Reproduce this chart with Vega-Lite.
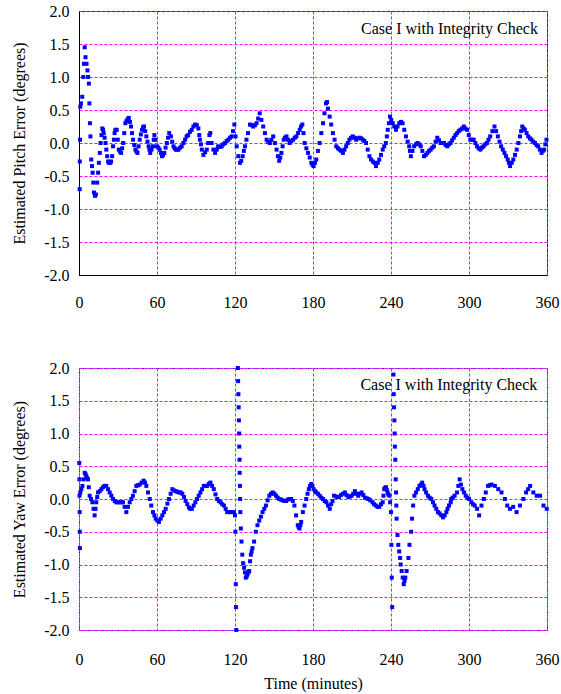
{
"$schema": "https://vega.github.io/schema/vega-lite/v6.json",
"background": "white",
"padding": {"left": 11, "top": 2, "right": 0, "bottom": 2},
"spacing": 48,
"config": {
  "font": "Liberation Serif",
  "text": {"font": "Liberation Serif"},
  "axis": {"labelFont": "Liberation Serif", "labelFontSize": 16, "titleFont": "Liberation Serif", "titleFontSize": 16, "titleFontWeight": "normal", "labelColor": "#000", "titleColor": "#000", "gridColor": "#ff00ff", "gridDash": [3, 2], "gridOpacity": 1, "gridWidth": 1, "ticks": false, "domainColor": "#000", "domainWidth": 1, "labelFlush": false, "labelOverlap": false},
  "axisX": {"gridColor": "#ff00ff", "gridDash": [3, 2], "gridOpacity": 1},
  "axisY": {"gridColor": "#ff00ff", "gridDash": [3, 2], "gridOpacity": 1}
},
"datasets": {
"label": [{"label": "Case I with Integrity Check"}],
"pitch": [
{"t":0.5,"v":-0.7},{"t":0.6,"v":-0.28},{"t":0.8,"v":0.05},{"t":1,"v":0.55},{"t":1.5,"v":0.6},{"t":2.5,"v":0.7},{"t":3.3,"v":1.0},{"t":3.8,"v":1.2},{"t":4.4,"v":1.45},{"t":5,"v":1.3},{"t":5.8,"v":1.2},{"t":6.5,"v":1.1},{"t":7,"v":1.0},{"t":7.6,"v":0.9},{"t":8,"v":0.6},{"t":8.4,"v":0.3},{"t":8.8,"v":0.1},{"t":9.4,"v":-0.25},{"t":10,"v":-0.35},{"t":10.5,"v":-0.45},{"t":11,"v":-0.6},{"t":11.5,"v":-0.75},{"t":12.3,"v":-0.8},{"t":13,"v":-0.78},{"t":14,"v":-0.6},{"t":14.7,"v":-0.45},{"t":15.3,"v":-0.3},{"t":16,"v":-0.15},{"t":16.6,"v":0.0},{"t":17.3,"v":0.12},{"t":17.9,"v":0.22},{"t":18.5,"v":0.2},{"t":19,"v":0.15},{"t":19.7,"v":0.08},{"t":20.4,"v":0.0},{"t":21,"v":-0.1},{"t":21.7,"v":-0.2},{"t":22.4,"v":-0.28},{"t":23,"v":-0.3},{"t":24,"v":-0.3},{"t":24.7,"v":-0.28},{"t":25.5,"v":-0.2},{"t":26.2,"v":-0.05},{"t":26.8,"v":0.05},{"t":27.4,"v":0.15},{"t":28,"v":0.2},{"t":29,"v":0.2},{"t":29.8,"v":0.05},{"t":30.6,"v":-0.1},{"t":31.5,"v":-0.13},{"t":32.4,"v":-0.15},{"t":33.2,"v":-0.08},{"t":34,"v":0.0},{"t":34.8,"v":0.15},{"t":35.7,"v":0.3},{"t":36.5,"v":0.33},{"t":37.4,"v":0.36},{"t":38.3,"v":0.38},{"t":39.2,"v":0.32},{"t":40,"v":0.25},{"t":40.8,"v":0.15},{"t":41.6,"v":0.05},{"t":42.5,"v":-0.03},{"t":43.4,"v":-0.1},{"t":44.2,"v":-0.13},{"t":45,"v":-0.15},{"t":45.8,"v":-0.05},{"t":46.7,"v":0.05},{"t":47.6,"v":0.13},{"t":48.5,"v":0.2},{"t":49.3,"v":0.24},{"t":50,"v":0.25},{"t":50.9,"v":0.18},{"t":51.8,"v":0.1},{"t":52.7,"v":0.02},{"t":53.6,"v":-0.05},{"t":54.2,"v":-0.1},{"t":54.8,"v":-0.15},{"t":55.8,"v":-0.1},{"t":56.9,"v":-0.05},{"t":57.5,"v":0.05},{"t":58,"v":0.12},{"t":58.8,"v":0.05},{"t":60,"v":-0.05},{"t":61,"v":-0.07},{"t":62,"v":-0.1},{"t":63,"v":-0.15},{"t":63.8,"v":-0.2},{"t":64.7,"v":-0.18},{"t":65.6,"v":-0.15},{"t":66.6,"v":-0.07},{"t":67.6,"v":0.0},{"t":68.5,"v":0.08},{"t":69.4,"v":0.15},{"t":70.7,"v":0.1},{"t":71.7,"v":0.02},{"t":72.7,"v":-0.05},{"t":73.6,"v":-0.08},{"t":74.5,"v":-0.1},{"t":75.5,"v":-0.1},{"t":76.5,"v":-0.1},{"t":77.8,"v":-0.07},{"t":79,"v":-0.05},{"t":80.3,"v":0.0},{"t":81.6,"v":0.05},{"t":82.8,"v":0.1},{"t":84,"v":0.12},{"t":85.4,"v":0.17},{"t":86.7,"v":0.2},{"t":88,"v":0.25},{"t":89.3,"v":0.28},{"t":90.6,"v":0.27},{"t":91.8,"v":0.22},{"t":92.5,"v":0.12},{"t":93,"v":0.05},{"t":93.8,"v":-0.02},{"t":94.5,"v":-0.1},{"t":95.7,"v":-0.18},{"t":97,"v":-0.14},{"t":98.3,"v":-0.1},{"t":99.3,"v":0.0},{"t":100.3,"v":0.12},{"t":101,"v":0.15},{"t":102,"v":0.0},{"t":103.4,"v":-0.1},{"t":104.7,"v":-0.15},{"t":106,"v":-0.1},{"t":107,"v":-0.05},{"t":108.4,"v":-0.06},{"t":109.8,"v":-0.05},{"t":111,"v":-0.02},{"t":112.3,"v":0.0},{"t":113.6,"v":0.03},{"t":114.9,"v":0.05},{"t":116.2,"v":0.08},{"t":117.4,"v":0.1},{"t":118.5,"v":0.18},{"t":119.5,"v":0.28},{"t":120.4,"v":0.1},{"t":121.3,"v":-0.05},{"t":122.5,"v":-0.2},{"t":123.8,"v":-0.3},{"t":124.8,"v":-0.27},{"t":125.9,"v":-0.2},{"t":126.8,"v":-0.12},{"t":127.7,"v":-0.05},{"t":128.8,"v":0.05},{"t":130,"v":0.15},{"t":131.5,"v":0.28},{"t":132.7,"v":0.27},{"t":134,"v":0.25},{"t":135.3,"v":0.27},{"t":136.6,"v":0.3},{"t":137.8,"v":0.37},{"t":139,"v":0.45},{"t":140.3,"v":0.35},{"t":141.7,"v":0.25},{"t":143,"v":0.15},{"t":144.3,"v":0.05},{"t":145.5,"v":0.02},{"t":146.8,"v":0.0},{"t":148,"v":0.05},{"t":149.4,"v":0.1},{"t":150.7,"v":0.0},{"t":152,"v":-0.1},{"t":153,"v":-0.2},{"t":154,"v":-0.27},{"t":154.8,"v":-0.22},{"t":155.7,"v":-0.15},{"t":156.6,"v":-0.05},{"t":157.5,"v":0.05},{"t":158.5,"v":0.08},{"t":159.6,"v":0.1},{"t":160.8,"v":0.05},{"t":162,"v":0.0},{"t":163.3,"v":0.03},{"t":164.7,"v":0.05},{"t":166,"v":0.08},{"t":167.2,"v":0.1},{"t":168.5,"v":0.15},{"t":169.8,"v":0.2},{"t":170.8,"v":0.25},{"t":171.8,"v":0.28},{"t":172.7,"v":0.15},{"t":173.6,"v":0.0},{"t":174.9,"v":-0.08},{"t":176.2,"v":-0.15},{"t":177.5,"v":-0.22},{"t":178.7,"v":-0.3},{"t":179.6,"v":-0.33},{"t":180.5,"v":-0.35},{"t":181.5,"v":-0.3},{"t":182.5,"v":-0.25},{"t":183.8,"v":-0.12},{"t":185.1,"v":0.0},{"t":186.4,"v":0.15},{"t":187.7,"v":0.3},{"t":188.8,"v":0.45},{"t":190,"v":0.6},{"t":190.8,"v":0.62},{"t":191.5,"v":0.52},{"t":192.8,"v":0.4},{"t":194,"v":0.28},{"t":195.3,"v":0.15},{"t":196.6,"v":0.05},{"t":197.9,"v":-0.05},{"t":199.2,"v":-0.08},{"t":200.4,"v":-0.1},{"t":201.7,"v":-0.12},{"t":203,"v":-0.15},{"t":204.2,"v":-0.1},{"t":205.5,"v":-0.05},{"t":206.8,"v":0.0},{"t":208,"v":0.05},{"t":209.3,"v":0.08},{"t":210.6,"v":0.1},{"t":211.9,"v":0.08},{"t":213.2,"v":0.05},{"t":214.5,"v":0.07},{"t":215.7,"v":0.08},{"t":217,"v":0.07},{"t":218.3,"v":0.05},{"t":219.5,"v":0.03},{"t":220.8,"v":0.0},{"t":222.1,"v":-0.1},{"t":223.4,"v":-0.2},{"t":224.7,"v":-0.25},{"t":226,"v":-0.28},{"t":227.3,"v":-0.3},{"t":228.5,"v":-0.35},{"t":229.8,"v":-0.3},{"t":231,"v":-0.25},{"t":232.3,"v":-0.18},{"t":233.6,"v":-0.1},{"t":234.8,"v":-0.05},{"t":236,"v":0.0},{"t":236.8,"v":0.1},{"t":237.5,"v":0.2},{"t":238.4,"v":0.3},{"t":239.2,"v":0.4},{"t":240.2,"v":0.35},{"t":241.3,"v":0.3},{"t":242.5,"v":0.25},{"t":243.8,"v":0.2},{"t":245,"v":0.25},{"t":246.4,"v":0.3},{"t":247.7,"v":0.32},{"t":248.9,"v":0.3},{"t":250.2,"v":0.2},{"t":251.5,"v":0.1},{"t":252.8,"v":0.02},{"t":254,"v":-0.05},{"t":254.6,"v":-0.12},{"t":255.3,"v":-0.2},{"t":256.5,"v":-0.12},{"t":257.8,"v":-0.05},{"t":259.1,"v":-0.02},{"t":260.4,"v":0.0},{"t":261.7,"v":-0.02},{"t":262.9,"v":-0.05},{"t":264.1,"v":-0.12},{"t":265.4,"v":-0.2},{"t":266.7,"v":-0.18},{"t":268,"v":-0.15},{"t":269.3,"v":-0.12},{"t":270.5,"v":-0.1},{"t":271.8,"v":-0.07},{"t":273,"v":-0.05},{"t":274.3,"v":0.02},{"t":275.6,"v":0.08},{"t":276.9,"v":0.04},{"t":278.2,"v":0.0},{"t":279.5,"v":0.0},{"t":280.7,"v":0.0},{"t":282,"v":-0.03},{"t":283.3,"v":-0.05},{"t":284.6,"v":-0.02},{"t":285.8,"v":0.0},{"t":287,"v":0.04},{"t":288.3,"v":0.08},{"t":289.6,"v":0.12},{"t":290.9,"v":0.15},{"t":292.1,"v":0.18},{"t":293.4,"v":0.2},{"t":294.7,"v":0.22},{"t":296,"v":0.25},{"t":297.2,"v":0.22},{"t":298.5,"v":0.2},{"t":299.8,"v":0.12},{"t":301,"v":0.05},{"t":302.3,"v":0.05},{"t":303.6,"v":0.05},{"t":304.9,"v":0.0},{"t":306.2,"v":-0.05},{"t":307.4,"v":-0.08},{"t":308.7,"v":-0.1},{"t":310,"v":-0.07},{"t":311.2,"v":-0.05},{"t":312.5,"v":-0.02},{"t":313.8,"v":0.0},{"t":315,"v":0.05},{"t":316.3,"v":0.1},{"t":318,"v":0.18},{"t":319.6,"v":0.25},{"t":320.9,"v":0.18},{"t":322.2,"v":0.1},{"t":323.5,"v":0.02},{"t":324.7,"v":-0.05},{"t":326,"v":-0.1},{"t":327.3,"v":-0.15},{"t":328.5,"v":-0.2},{"t":329.8,"v":-0.25},{"t":330.7,"v":-0.3},{"t":331.6,"v":-0.35},{"t":332.9,"v":-0.3},{"t":334.1,"v":-0.25},{"t":335.4,"v":-0.18},{"t":336.7,"v":-0.1},{"t":338,"v":0.0},{"t":339.2,"v":0.1},{"t":340.1,"v":0.18},{"t":341,"v":0.25},{"t":342,"v":0.22},{"t":343,"v":0.2},{"t":344.3,"v":0.15},{"t":345.6,"v":0.1},{"t":346.9,"v":0.07},{"t":348.1,"v":0.05},{"t":349.4,"v":0.02},{"t":350.7,"v":0.0},{"t":352,"v":-0.03},{"t":353.2,"v":-0.05},{"t":354.5,"v":-0.1},{"t":355.8,"v":-0.15},{"t":356.8,"v":-0.12},{"t":357.8,"v":-0.1},{"t":358.7,"v":-0.02},{"t":359.6,"v":0.05}
],
"yaw": [
{"t":0.2,"v":0.55},{"t":0.3,"v":0.3},{"t":0.4,"v":0.05},{"t":0.5,"v":-0.2},{"t":0.6,"v":-0.5},{"t":0.7,"v":-0.75},{"t":1,"v":0.1},{"t":1.8,"v":0.15},{"t":2.6,"v":0.2},{"t":3.5,"v":0.3},{"t":4.4,"v":0.4},{"t":5,"v":0.38},{"t":5.6,"v":0.35},{"t":6.3,"v":0.32},{"t":6.9,"v":0.3},{"t":7.5,"v":0.18},{"t":8.2,"v":0.05},{"t":9.2,"v":0.0},{"t":10.3,"v":-0.05},{"t":11.2,"v":-0.15},{"t":12,"v":-0.25},{"t":12.7,"v":-0.15},{"t":13.3,"v":-0.05},{"t":14,"v":0.03},{"t":14.6,"v":0.1},{"t":16,"v":0.12},{"t":17.2,"v":0.15},{"t":18.5,"v":0.18},{"t":19.7,"v":0.2},{"t":21,"v":0.2},{"t":22.3,"v":0.15},{"t":23.6,"v":0.1},{"t":24.9,"v":0.05},{"t":26.2,"v":0.0},{"t":27.5,"v":-0.03},{"t":28.7,"v":-0.05},{"t":30,"v":-0.05},{"t":31.3,"v":-0.05},{"t":32.5,"v":-0.05},{"t":33.8,"v":-0.05},{"t":35.1,"v":-0.12},{"t":36.4,"v":-0.2},{"t":37.7,"v":-0.12},{"t":39,"v":-0.05},{"t":40.3,"v":0.0},{"t":41.5,"v":0.05},{"t":42.8,"v":0.12},{"t":44.1,"v":0.2},{"t":45.4,"v":0.21},{"t":46.7,"v":0.22},{"t":48.2,"v":0.25},{"t":49.7,"v":0.28},{"t":50.8,"v":0.25},{"t":51.8,"v":0.2},{"t":53.1,"v":0.1},{"t":54.4,"v":0.0},{"t":55.6,"v":-0.1},{"t":56.9,"v":-0.2},{"t":58,"v":-0.25},{"t":59,"v":-0.3},{"t":60.3,"v":-0.33},{"t":61.5,"v":-0.35},{"t":62.8,"v":-0.3},{"t":64.1,"v":-0.25},{"t":65.4,"v":-0.2},{"t":66.7,"v":-0.15},{"t":68,"v":-0.07},{"t":69.2,"v":0.0},{"t":70.5,"v":0.08},{"t":71.8,"v":0.15},{"t":73.1,"v":0.13},{"t":74.4,"v":0.12},{"t":75.7,"v":0.11},{"t":76.9,"v":0.1},{"t":78.2,"v":0.1},{"t":79.5,"v":0.08},{"t":80.8,"v":0.03},{"t":82,"v":-0.03},{"t":83.3,"v":-0.08},{"t":84.6,"v":-0.13},{"t":85.6,"v":-0.15},{"t":86.8,"v":-0.15},{"t":88.2,"v":-0.1},{"t":89.5,"v":-0.05},{"t":90.8,"v":0.0},{"t":92.1,"v":0.05},{"t":93.4,"v":0.1},{"t":94.7,"v":0.15},{"t":96,"v":0.2},{"t":97.3,"v":0.2},{"t":98.6,"v":0.2},{"t":99.9,"v":0.23},{"t":101.1,"v":0.25},{"t":102.4,"v":0.2},{"t":103.7,"v":0.15},{"t":105,"v":0.07},{"t":106.3,"v":0.0},{"t":107.6,"v":-0.03},{"t":108.9,"v":-0.05},{"t":110.2,"v":-0.08},{"t":111.5,"v":-0.1},{"t":112.8,"v":-0.15},{"t":114,"v":-0.2},{"t":115.3,"v":-0.2},{"t":116.6,"v":-0.2},{"t":117.9,"v":-0.2},{"t":119.2,"v":-0.2},{"t":120,"v":-0.25},{"t":120.3,"v":-0.5},{"t":120.6,"v":-1.3},{"t":120.8,"v":-1.65},{"t":121,"v":-2.0},{"t":122.2,"v":2.0},{"t":122.4,"v":1.8},{"t":122.6,"v":1.6},{"t":122.8,"v":1.4},{"t":123,"v":1.2},{"t":123.2,"v":1.0},{"t":123.3,"v":0.8},{"t":123.5,"v":0.6},{"t":123.6,"v":0.4},{"t":123.8,"v":0.2},{"t":123.9,"v":0.0},{"t":124.1,"v":-0.2},{"t":124.5,"v":-0.45},{"t":125,"v":-0.65},{"t":125.6,"v":-0.85},{"t":126.3,"v":-0.98},{"t":127,"v":-1.05},{"t":127.7,"v":-1.12},{"t":128.3,"v":-1.2},{"t":129,"v":-1.18},{"t":129.6,"v":-1.15},{"t":130.3,"v":-1.12},{"t":130.9,"v":-1.1},{"t":131.6,"v":-0.95},{"t":132.2,"v":-0.85},{"t":132.8,"v":-0.8},{"t":133.4,"v":-0.75},{"t":134.7,"v":-0.65},{"t":136,"v":-0.5},{"t":137.3,"v":-0.4},{"t":138.6,"v":-0.33},{"t":139.9,"v":-0.27},{"t":141.2,"v":-0.2},{"t":142.5,"v":-0.15},{"t":143.8,"v":-0.1},{"t":145.1,"v":-0.02},{"t":146.4,"v":0.05},{"t":147.7,"v":0.08},{"t":149,"v":0.1},{"t":150.3,"v":0.08},{"t":151.6,"v":0.05},{"t":152.8,"v":0.02},{"t":154,"v":0.0},{"t":155.4,"v":-0.01},{"t":156.6,"v":-0.02},{"t":158,"v":-0.03},{"t":159.3,"v":-0.03},{"t":160.6,"v":-0.01},{"t":161.9,"v":0.0},{"t":163.2,"v":0.0},{"t":164.5,"v":-0.03},{"t":165.7,"v":-0.1},{"t":167,"v":-0.25},{"t":168.3,"v":-0.4},{"t":169,"v":-0.43},{"t":169.6,"v":-0.45},{"t":170.3,"v":-0.4},{"t":170.9,"v":-0.35},{"t":172.2,"v":-0.2},{"t":173.5,"v":-0.1},{"t":174.8,"v":0.0},{"t":175.8,"v":0.08},{"t":176.8,"v":0.15},{"t":177.7,"v":0.2},{"t":178.7,"v":0.23},{"t":179.6,"v":0.2},{"t":180.5,"v":0.15},{"t":181.5,"v":0.12},{"t":182.5,"v":0.1},{"t":183.8,"v":0.08},{"t":185.1,"v":0.05},{"t":186.4,"v":0.02},{"t":187.7,"v":0.0},{"t":189,"v":-0.03},{"t":190.3,"v":-0.05},{"t":191.6,"v":-0.1},{"t":192.9,"v":-0.15},{"t":194,"v":-0.08},{"t":195,"v":-0.03},{"t":196.2,"v":0.05},{"t":197.5,"v":0.04},{"t":198.8,"v":0.03},{"t":200,"v":0.03},{"t":201.5,"v":0.06},{"t":203,"v":0.08},{"t":204.5,"v":0.1},{"t":205.8,"v":0.06},{"t":207.2,"v":0.03},{"t":208.5,"v":0.04},{"t":209.7,"v":0.05},{"t":211,"v":0.08},{"t":212.2,"v":0.12},{"t":213.5,"v":0.08},{"t":214.8,"v":0.05},{"t":216,"v":0.08},{"t":217.4,"v":0.1},{"t":218.7,"v":0.06},{"t":220,"v":0.02},{"t":221.3,"v":0.01},{"t":222.6,"v":0.0},{"t":224,"v":-0.02},{"t":225.8,"v":-0.05},{"t":227,"v":-0.08},{"t":228.4,"v":-0.1},{"t":229.7,"v":-0.12},{"t":231,"v":-0.12},{"t":232.3,"v":-0.08},{"t":233.6,"v":-0.05},{"t":234.2,"v":0.05},{"t":234.8,"v":0.15},{"t":235.5,"v":0.17},{"t":236.1,"v":0.18},{"t":236.8,"v":0.14},{"t":237.4,"v":0.1},{"t":238,"v":0.07},{"t":238.7,"v":0.05},{"t":239.3,"v":-0.05},{"t":240,"v":-0.2},{"t":240.3,"v":-0.7},{"t":240.6,"v":-1.2},{"t":240.9,"v":-1.65},{"t":241.9,"v":1.9},{"t":242.1,"v":1.6},{"t":242.3,"v":1.4},{"t":242.6,"v":1.2},{"t":242.8,"v":1.0},{"t":243,"v":0.8},{"t":243.3,"v":0.6},{"t":243.6,"v":0.3},{"t":243.9,"v":0.1},{"t":244.1,"v":-0.1},{"t":244.3,"v":-0.3},{"t":245,"v":-0.55},{"t":245.6,"v":-0.7},{"t":246.3,"v":-0.8},{"t":247,"v":-0.9},{"t":247.4,"v":-1.0},{"t":248.2,"v":-1.1},{"t":249,"v":-1.2},{"t":249.8,"v":-1.3},{"t":250.4,"v":-1.25},{"t":251,"v":-1.2},{"t":252,"v":-1.1},{"t":253.4,"v":-0.9},{"t":254.2,"v":-0.7},{"t":255.5,"v":-0.5},{"t":256.2,"v":-0.3},{"t":257,"v":-0.1},{"t":258,"v":0.05},{"t":259.3,"v":0.1},{"t":260.6,"v":0.15},{"t":261.9,"v":0.2},{"t":263,"v":0.22},{"t":264,"v":0.25},{"t":265,"v":0.2},{"t":265.8,"v":0.15},{"t":267,"v":0.1},{"t":268.4,"v":0.05},{"t":269.7,"v":0.02},{"t":271,"v":0.0},{"t":272.3,"v":-0.05},{"t":273.5,"v":-0.1},{"t":274.8,"v":-0.15},{"t":276.1,"v":-0.2},{"t":277.4,"v":-0.22},{"t":278.7,"v":-0.25},{"t":280,"v":-0.28},{"t":281.3,"v":-0.25},{"t":282.6,"v":-0.2},{"t":283.5,"v":-0.15},{"t":284.6,"v":-0.1},{"t":285.9,"v":-0.05},{"t":286.4,"v":0.0},{"t":287.5,"v":0.02},{"t":288.9,"v":0.05},{"t":290.8,"v":0.1},{"t":291.8,"v":0.2},{"t":292.8,"v":0.3},{"t":293.8,"v":0.22},{"t":294.9,"v":0.15},{"t":296.2,"v":0.1},{"t":297.5,"v":0.05},{"t":298.8,"v":0.02},{"t":300,"v":0.0},{"t":301.8,"v":-0.05},{"t":303.1,"v":-0.08},{"t":304.4,"v":-0.1},{"t":306.2,"v":-0.15},{"t":307.8,"v":-0.25},{"t":309.6,"v":-0.1},{"t":311.4,"v":0.0},{"t":312.9,"v":0.1},{"t":314.7,"v":0.2},{"t":316,"v":0.21},{"t":317.3,"v":0.22},{"t":319.9,"v":0.2},{"t":322.5,"v":0.15},{"t":325,"v":0.1},{"t":327.6,"v":0.0},{"t":329.4,"v":-0.1},{"t":331.5,"v":-0.15},{"t":334,"v":-0.12},{"t":336.6,"v":-0.2},{"t":339.2,"v":-0.1},{"t":341.8,"v":0.0},{"t":343.9,"v":0.1},{"t":345.5,"v":0.15},{"t":347,"v":0.2},{"t":349.5,"v":0.1},{"t":352.1,"v":0.05},{"t":354.7,"v":0.05},{"t":357.3,"v":-0.1},{"t":359.8,"v":-0.15}
]
},
"vconcat": [
{
  "width": 468, "height": 264,
  "view": {"stroke": "#2a1a30", "strokeWidth": 1},
  "layer": [
    {"data": {"name": "pitch"}, "mark": {"type": "point", "shape": "square", "filled": true, "size": 16, "color": "#0000ff", "opacity": 1},
     "encoding": {
       "x": {"field": "t", "type": "quantitative", "scale": {"domain": [0, 360], "nice": false}, "axis": {"values": [0, 60, 120, 180, 240, 300, 360], "title": null, "gridColor": "#ff00ff", "labelFont": "Liberation Serif", "labelPadding": 19, "domain": true}},
       "y": {"field": "v", "type": "quantitative", "scale": {"domain": [-2, 2], "nice": false}, "axis": {"values": [-2, -1.5, -1, -0.5, 0, 0.5, 1, 1.5, 2], "gridColor": "#ff00ff", "labelFont": "Liberation Serif", "labelExpr": "datum.value < 0 ? '-' + format(-datum.value, '.1f') : format(datum.value, '.1f')", "title": "Estimated Pitch Error (degrees)", "labelPadding": 10, "titlePadding": 16, "domain": true}}
     }},
    {"mark": {"type": "rule", "color": "#000", "strokeWidth": 1},
     "encoding": {"y": {"datum": 0, "type": "quantitative", "scale": {"domain": [-2, 2], "nice": false}, "axis": {"values": [-2, -1.5, -1, -0.5, 0, 0.5, 1, 1.5, 2], "gridColor": "#ff00ff", "labelFont": "Liberation Serif", "labelExpr": "datum.value < 0 ? '-' + format(-datum.value, '.1f') : format(datum.value, '.1f')", "title": "Estimated Pitch Error (degrees)", "labelPadding": 10, "titlePadding": 16, "domain": true}}}},
    {"data": {"name": "label"}, "mark": {"type": "text", "align": "right", "baseline": "middle", "font": "Liberation Serif", "fontSize": 16, "fill": "#000"},
     "encoding": {
       "x": {"datum": 353, "type": "quantitative", "scale": {"domain": [0, 360], "nice": false}, "axis": {"values": [0, 60, 120, 180, 240, 300, 360], "title": null, "gridColor": "#ff00ff", "labelFont": "Liberation Serif", "labelPadding": 19, "domain": true}},
       "y": {"datum": 1.73, "type": "quantitative", "scale": {"domain": [-2, 2], "nice": false}, "axis": {"values": [-2, -1.5, -1, -0.5, 0, 0.5, 1, 1.5, 2], "gridColor": "#ff00ff", "labelFont": "Liberation Serif", "labelExpr": "datum.value < 0 ? '-' + format(-datum.value, '.1f') : format(datum.value, '.1f')", "title": "Estimated Pitch Error (degrees)", "labelPadding": 10, "titlePadding": 16, "domain": true}},
       "text": {"field": "label", "type": "nominal"}}}
  ]
},
{
  "width": 468, "height": 262,
  "view": {"stroke": "#0000ff", "strokeWidth": 1, "strokeDash": [2, 1]},
  "layer": [
    {"data": {"name": "yaw"}, "mark": {"type": "point", "shape": "square", "filled": true, "size": 16, "color": "#0000ff", "opacity": 1},
     "encoding": {
       "x": {"field": "t", "type": "quantitative", "scale": {"domain": [0, 360], "nice": false}, "axis": {"values": [0, 60, 120, 180, 240, 300, 360], "title": "Time (minutes)", "gridColor": "#ff00ff", "labelFont": "Liberation Serif", "labelPadding": 21, "titlePadding": 8, "domain": false}},
       "y": {"field": "v", "type": "quantitative", "scale": {"domain": [-2, 2], "nice": false}, "axis": {"values": [-2, -1.5, -1, -0.5, 0, 0.5, 1, 1.5, 2], "gridColor": "#ff00ff", "labelFont": "Liberation Serif", "labelExpr": "datum.value < 0 ? '-' + format(-datum.value, '.1f') : format(datum.value, '.1f')", "title": "Estimated Yaw Error (degrees)", "labelPadding": 10, "titlePadding": 16, "domain": false}}
     }},
    {"mark": {"type": "rule", "color": "#000", "strokeWidth": 1},
     "encoding": {"y": {"datum": 0, "type": "quantitative", "scale": {"domain": [-2, 2], "nice": false}, "axis": {"values": [-2, -1.5, -1, -0.5, 0, 0.5, 1, 1.5, 2], "gridColor": "#ff00ff", "labelFont": "Liberation Serif", "labelExpr": "datum.value < 0 ? '-' + format(-datum.value, '.1f') : format(datum.value, '.1f')", "title": "Estimated Yaw Error (degrees)", "labelPadding": 10, "titlePadding": 16, "domain": false}}}},
    {"data": {"name": "label"}, "mark": {"type": "text", "align": "right", "baseline": "middle", "font": "Liberation Serif", "fontSize": 16, "fill": "#000"},
     "encoding": {
       "x": {"datum": 352.5, "type": "quantitative", "scale": {"domain": [0, 360], "nice": false}, "axis": {"values": [0, 60, 120, 180, 240, 300, 360], "title": "Time (minutes)", "gridColor": "#ff00ff", "labelFont": "Liberation Serif", "labelPadding": 21, "titlePadding": 8, "domain": false}},
       "y": {"datum": 1.74, "type": "quantitative", "scale": {"domain": [-2, 2], "nice": false}, "axis": {"values": [-2, -1.5, -1, -0.5, 0, 0.5, 1, 1.5, 2], "gridColor": "#ff00ff", "labelFont": "Liberation Serif", "labelExpr": "datum.value < 0 ? '-' + format(-datum.value, '.1f') : format(datum.value, '.1f')", "title": "Estimated Yaw Error (degrees)", "labelPadding": 10, "titlePadding": 16, "domain": false}},
       "text": {"field": "label", "type": "nominal"}}}
  ]
}
]
}
